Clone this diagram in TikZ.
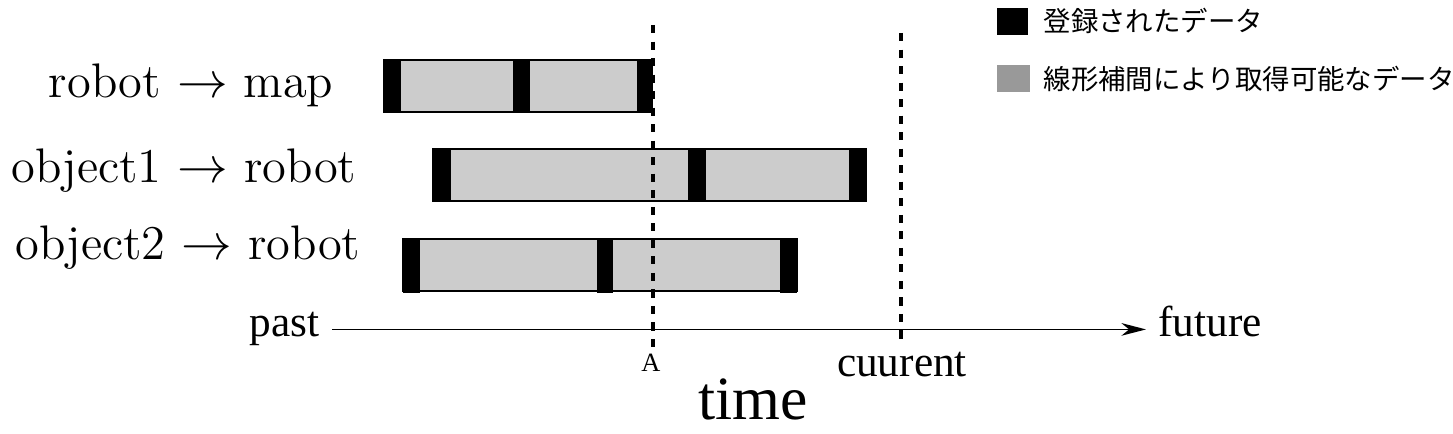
\documentclass[tikz,border=0pt]{standalone}
\usepackage{fontspec}
\newfontfamily\jpfont{Noto Sans CJK JP}
\newfontfamily\timesfont{Liberation Serif}
\usetikzlibrary{positioning,arrows.meta}

\begin{document}
\begin{tikzpicture}[
	x=0.01cm,y=-0.01cm,
	interp/.style={draw,fill=black!20,line width=0.5pt},
	regbox/.style={fill=black},
	rowlabel/.style={anchor=base east,inner sep=0pt,font=\fontsize{13.8}{16}\selectfont},
	timelabel/.style={font=\timesfont\fontsize{12.3}{14}\selectfont},
	nowline/.style={dash pattern=on 2.3pt off 2.4pt,line width=1.1pt},
	legendtext/.style={anchor=west,inner sep=0pt,font=\jpfont\fontsize{7.8}{10}\selectfont}
	]
	\useasboundingbox (0,0) rectangle (1453,434);
	\node[rowlabel] (rm) at (334,98) {robot $\rightarrow$ map};
	\node[rowlabel] (or1) at (357,183) {object1 $\rightarrow$ robot};
	\node[rowlabel] (or2) at (361,260) {object2 $\rightarrow$ robot};
	\draw[interp] (384,60) rectangle (652,112);
	\foreach \l/\r in {384/401,513/530,637/652}
		\fill[regbox] (\l,59) rectangle (\r,113);
	\draw[interp] (433,149) rectangle (866,201);
	\foreach \l/\r in {433/451,688/706,849/866}
		\fill[regbox] (\l,148) rectangle (\r,202);
	\draw[interp] (403,239) rectangle (797,291);
	\foreach \l/\r in {403/420,597/613,780/797}
		\fill[regbox] (\l,238) rectangle (\r,293);
	\node[timelabel,anchor=base east] (past) at (332,337) {past};
	\node[timelabel,anchor=base west] (future) at (1146,337) {future};
	\draw[line width=0.5pt,-{Stealth[length=7pt,width=3.6pt,inset=2.2pt]}] (past.mid east) -- (future.mid west);
	\node[font=\timesfont\fontsize{7.5}{9}\selectfont,anchor=base,inner sep=2pt] (A) at (651,372) {A};
	\node[timelabel,anchor=base,inner sep=2pt] (now) at (902,377) {cuurent};
	\coordinate (Atop) at (653,25);
	\coordinate (nowtop) at (901,33);
	\draw[nowline] (Atop) -- (A.north -| Atop);
	\draw[nowline] (nowtop) -- (now.north -| nowtop);
	\node[font=\timesfont\fontsize{17.5}{20}\selectfont,anchor=base] (time) at (753,420) {time};
	\fill[black] (997,8) rectangle (1028,35);
	\node[legendtext] (reg) at (1043,21) {登録されたデータ};
	\fill[black!40] (997,65) rectangle (1030,92);
	\node[legendtext] (lin) at (1043,79) {線形補間により取得可能なデータ};
\end{tikzpicture}
\end{document}
